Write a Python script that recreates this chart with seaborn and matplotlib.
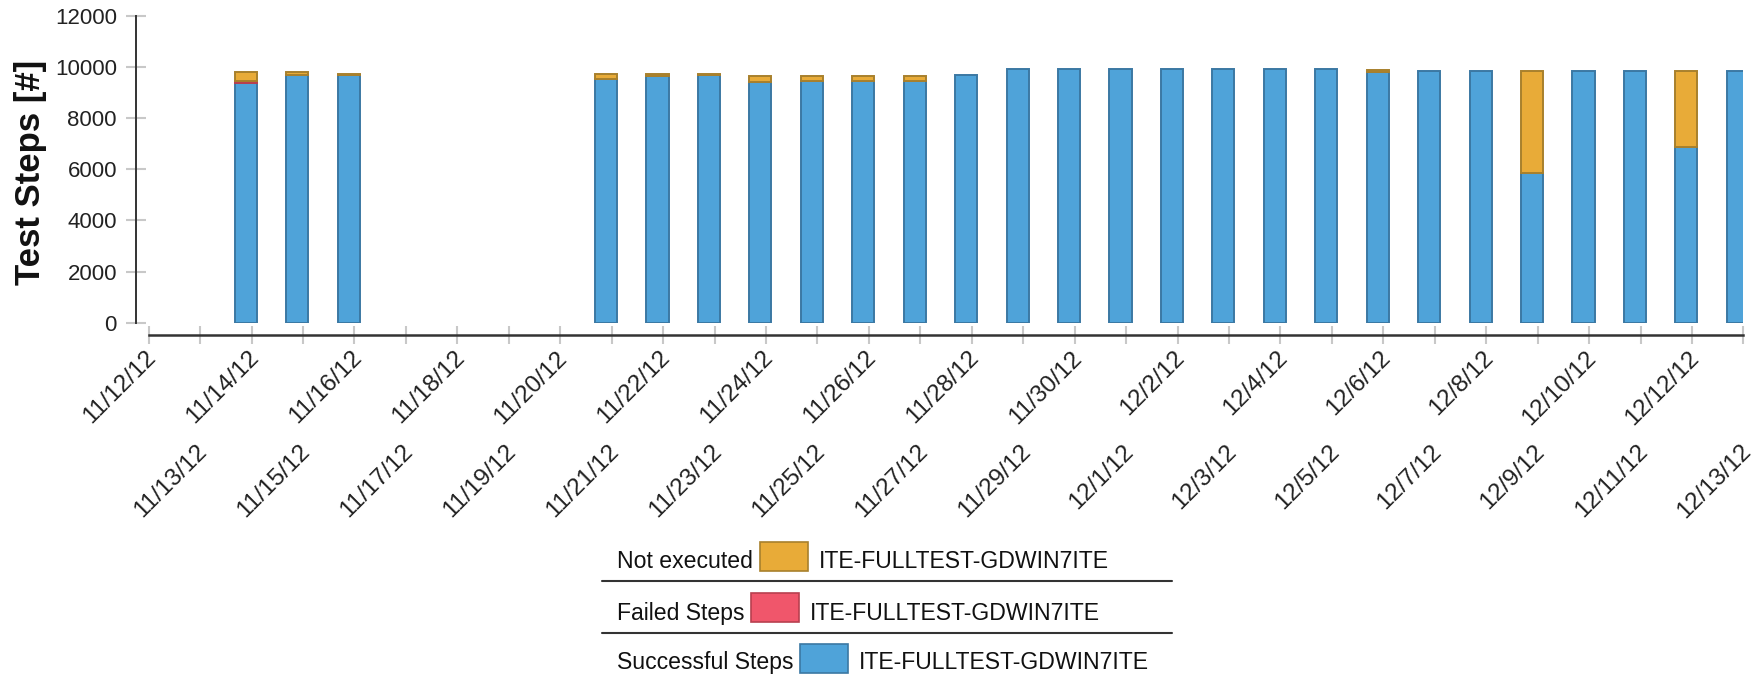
import numpy as np
import pandas as pd
import matplotlib
matplotlib.use("Agg")
import matplotlib.pyplot as plt
import matplotlib.transforms as mtransforms
from matplotlib.patches import Rectangle
from matplotlib.lines import Line2D
import seaborn as sns

# ---- data -----------------------------------------------------------------
dates = [
    "11/12/12", "11/13/12", "11/14/12", "11/15/12", "11/16/12", "11/17/12",
    "11/18/12", "11/19/12", "11/20/12", "11/21/12", "11/22/12", "11/23/12",
    "11/24/12", "11/25/12", "11/26/12", "11/27/12", "11/28/12", "11/29/12",
    "11/30/12", "12/1/12", "12/2/12", "12/3/12", "12/4/12", "12/5/12",
    "12/6/12", "12/7/12", "12/8/12", "12/9/12", "12/10/12", "12/11/12",
    "12/12/12", "12/13/12",
]

run_dates = [
    "11/14/12", "11/15/12", "11/16/12", "11/21/12", "11/22/12", "11/23/12",
    "11/24/12", "11/25/12", "11/26/12", "11/27/12", "11/28/12", "11/29/12",
    "11/30/12", "12/1/12", "12/2/12", "12/3/12", "12/4/12", "12/5/12",
    "12/6/12", "12/7/12", "12/8/12", "12/9/12", "12/10/12", "12/11/12",
    "12/12/12", "12/13/12",
]
successful_steps = [
    9360, 9670, 9670, 9520, 9660, 9670, 9400, 9460, 9460, 9460, 9700, 9920,
    9920, 9920, 9920, 9920, 9920, 9920, 9810, 9850, 9850, 5840, 9850, 9850,
    6880, 9850,
]
failed_steps = [
    70, 0, 0, 0, 0, 0, 0, 0, 0, 0, 0, 0,
    0, 0, 0, 0, 0, 0, 0, 0, 0, 0, 0, 0,
    0, 0,
]
not_executed = [
    350, 110, 40, 190, 50, 40, 240, 180, 180, 180, 0, 0,
    0, 0, 0, 0, 0, 0, 50, 0, 0, 4000, 0, 0,
    2960, 0,
]

series_name = "ITE-FULLTEST-GDWIN7ITE"
y_ticks = [0, 2000, 4000, 6000, 8000, 10000, 12000]
y_label = "Test Steps [#]"

# ---- styling --------------------------------------------------------------
sns.set_style("white")
plt.rcParams["font.family"] = ["Liberation Sans", "DejaVu Sans"]

W, H = 1762, 676
fig = plt.figure(figsize=(W / 100, H / 100), dpi=100)
ax = fig.add_axes([0.08439, 0.52263, 0.90511, 0.45415])

BLUE, BLUE_EDGE = "#4fa3d9", "#3b78a3"
RED, RED_EDGE = "#f0566b", "#b8404f"
ORANGE, ORANGE_EDGE = "#e8ab38", "#a8802c"
AXIS_DARK = "#333333"
TICK_GREY = "#c8c8c8"

BAR_WIDTH = 0.43
TICK_SHIFT = 0.11  # date ticks sit slightly right of the bar centres

df = pd.DataFrame({
    "date": run_dates,
    "Successful Steps": successful_steps,
    "Failed Steps": failed_steps,
    "Not executed": not_executed,
})

layers = [
    ("Successful Steps", BLUE, BLUE_EDGE),
    ("Failed Steps", RED, RED_EDGE),
    ("Not executed", ORANGE, ORANGE_EDGE),
]

# stacked bars: each segment starts where the previous one ended
base = np.zeros(len(df))
for name, face, edge in layers:
    vals = df[name].to_numpy(dtype=float)
    mask = vals > 0
    seg = pd.DataFrame({"date": df["date"].to_numpy()[mask], "value": vals[mask]})
    sns.barplot(
        data=seg, x="date", y="value", order=dates, ax=ax,
        bottom=base[mask], color=face, edgecolor=edge, linewidth=1.4,
        width=BAR_WIDTH, saturation=1, errorbar=None,
    )
    base += vals

n = len(dates)
pos = np.arange(n) + TICK_SHIFT
ax.set_xlim(pos[0], pos[-1])
ax.set_ylim(0, 12000)
ax.set_yticks(y_ticks)
ax.set_yticklabels([str(v) for v in y_ticks])

# alternate date labels on two rows: major ticks upper row, minor ticks lower
ax.set_xticks(pos[0::2], labels=dates[0::2])
ax.set_xticks(pos[1::2], labels=dates[1::2], minor=True)
ax.set_xlabel("")

for side in ("top", "right"):
    ax.spines[side].set_visible(False)
ax.spines["left"].set_position(("outward", 9.4))
ax.spines["bottom"].set_position(("outward", 8.9))
ax.spines["left"].set_color(AXIS_DARK)
ax.spines["bottom"].set_color(AXIS_DARK)
ax.spines["left"].set_linewidth(1.4)
ax.spines["bottom"].set_linewidth(1.8)

ax.tick_params(axis="both", which="both", bottom=True, left=True)
ax.tick_params(axis="y", direction="inout", length=14.4, width=1.5,
               color=TICK_GREY, labelsize=16, labelcolor="#222222", pad=6.3)
ax.tick_params(axis="y", which="minor", left=False)
ax.tick_params(axis="x", which="both", direction="inout", length=13,
               width=1.5, color=TICK_GREY, labelsize=17.5,
               labelcolor="#222222", labelrotation=45)
ax.tick_params(axis="x", which="major", pad=2)
ax.tick_params(axis="x", which="minor", pad=69.5)

shift = mtransforms.ScaledTranslation(-4 / 100, 0, fig.dpi_scale_trans)
for tick in ax.xaxis.get_major_ticks() + ax.xaxis.get_minor_ticks():
    lab = tick.label1
    lab.set_horizontalalignment("right")
    lab.set_verticalalignment("top")
    lab.set_rotation_mode("anchor")
    lab.set_transform(lab.get_transform() + shift)

ax.set_ylabel(y_label, fontsize=25, fontweight="bold", color="#111111")
ax.yaxis.set_label_coords(47 / W, 1 - 172.5 / H, transform=fig.transFigure)
ax.grid(False)


# ---- legend table below the plot -------------------------------------------
def fx(x):
    return x / W


def fy(y):
    return 1 - y / H


legend_rows = [
    ("Not executed", ORANGE, ORANGE_EDGE, 568.3, 542.0),
    ("Failed Steps", RED, RED_EDGE, 620.0, 593.0),
    ("Successful Steps", BLUE, BLUE_EDGE, 669.3, 644.0),
]
renderer = fig.canvas.get_renderer()
for label, face, edge, baseline, sw_top in legend_rows:
    t = fig.text(fx(616.7), fy(baseline), label, fontsize=16.6,
                 color="#111111", va="baseline", ha="left")
    bb = t.get_window_extent(renderer)
    sw_left = bb.x1 + 7.0
    sw_w, sw_h = 48, 29
    fig.add_artist(Rectangle(
        (sw_left / W, fy(sw_top + sw_h)), sw_w / W, sw_h / H,
        transform=fig.transFigure, facecolor=face, edgecolor=edge,
        linewidth=1.2))
    fig.text((sw_left + sw_w + 11) / W, fy(baseline), series_name,
             fontsize=16.6, color="#111111", va="baseline", ha="left")

for y in (581, 633):
    fig.add_artist(Line2D([fx(602), fx(1172)], [fy(y), fy(y)],
                          transform=fig.transFigure, color=AXIS_DARK,
                          linewidth=1.5))

fig.savefig("out.png", dpi=100)
